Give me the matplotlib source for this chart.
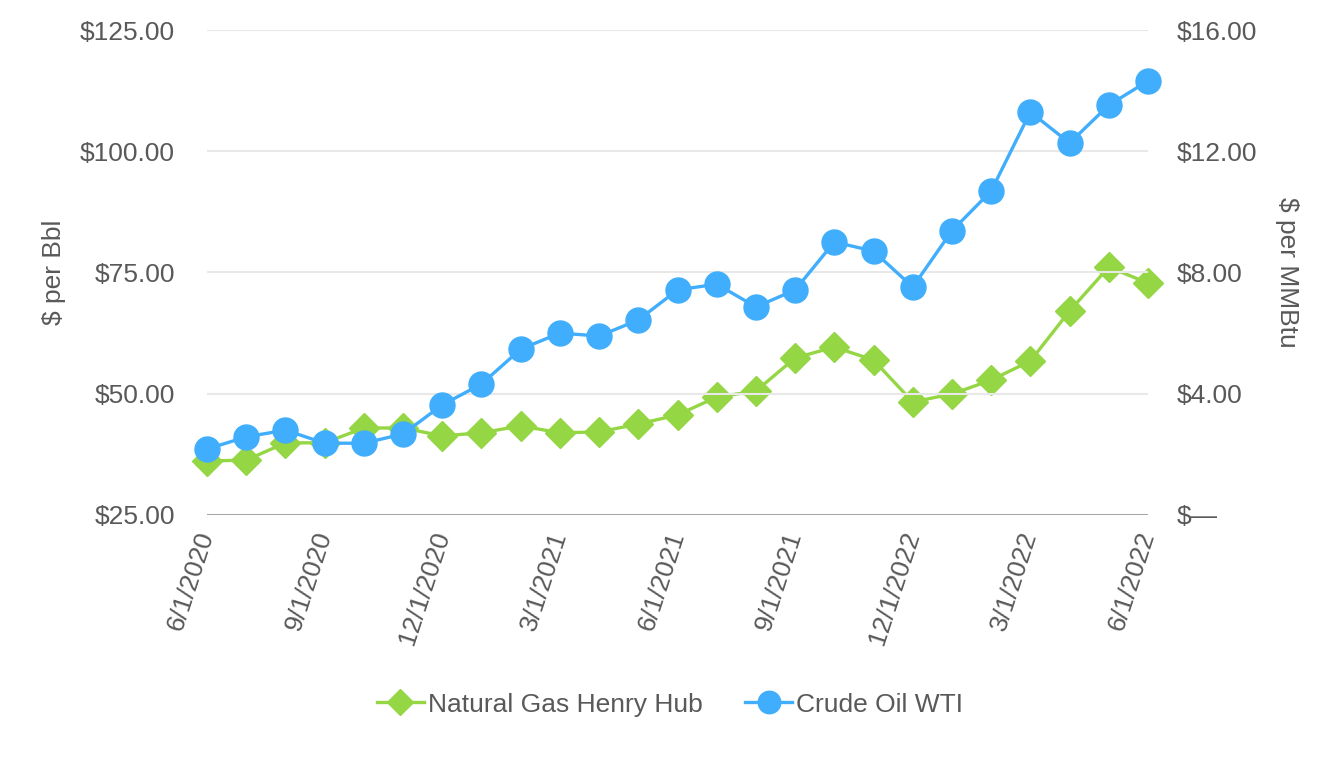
import numpy as np
import matplotlib.pyplot as plt

plt.rcParams['font.family'] = ['Liberation Sans', 'DejaVu Sans']

months = ['6/1/2020', '7/1/2020', '8/1/2020', '9/1/2020', '10/1/2020', '11/1/2020',
          '12/1/2020', '1/1/2021', '2/1/2021', '3/1/2021', '4/1/2021', '5/1/2021',
          '6/1/2021', '7/1/2021', '8/1/2021', '9/1/2021', '10/1/2021', '11/1/2021',
          '12/1/2022', '1/1/2022', '2/1/2022', '3/1/2022', '4/1/2022', '5/1/2022',
          '6/1/2022']
tick_every = 3

crude_oil = [38.6, 41.1, 42.5, 39.8, 39.8, 41.7, 47.7, 52.0, 59.2, 62.5, 61.9, 65.2,
             71.4, 72.6, 67.9, 71.4, 81.3, 79.4, 72.0, 83.6, 91.8, 108.1, 101.7, 109.5,
             114.5]
nat_gas = [1.78, 1.81, 2.38, 2.38, 2.87, 2.87, 2.61, 2.71, 2.94, 2.71, 2.74, 3.00,
           3.30, 3.89, 4.09, 5.18, 5.54, 5.11, 3.73, 3.99, 4.45, 5.08, 6.73, 8.18,
           7.65]

oil_ticks = [25, 50, 75, 100, 125]
gas_ticks = [0, 4, 8, 12, 16]

blue = '#40aefc'
green = '#95d645'
txt = '#595959'

fig = plt.figure(figsize=(13.4, 7.6), dpi=100)
ax = fig.add_axes([0.1545, 0.3224, 0.7022, 0.6381])
ax2 = ax.twinx()

x = np.arange(len(months))
g, = ax2.plot(x, nat_gas, color=green, lw=2.4, marker='D', ms=15,
              label='Natural Gas Henry Hub', clip_on=False)
o, = ax.plot(x, crude_oil, color=blue, lw=2.4, marker='o', ms=18,
             label='Crude Oil WTI', clip_on=False)
# oil on top of gas, like the original
ax.set_zorder(ax2.get_zorder() + 1)
ax.patch.set_visible(False)

ax.set_xlim(0, len(months) - 1)
ax.set_ylim(25, 125)
ax2.set_ylim(0, 16)
ax.set_yticks(oil_ticks)
ax.set_yticklabels(['${:.2f}'.format(v) for v in oil_ticks])
ax2.set_yticks(gas_ticks)
ax2.set_yticklabels(['$—' if v == 0 else '${:.2f}'.format(v) for v in gas_ticks])

ax.set_xticks(x[::tick_every])
ax.set_xticklabels(months[::tick_every], rotation=72, ha='right', va='center',
                   rotation_mode='anchor')

for a in (ax, ax2):
    for s in a.spines.values():
        s.set_visible(False)
    a.tick_params(length=0, labelsize=19, labelcolor=txt)
ax.tick_params(axis='y', pad=23)
ax2.tick_params(axis='y', pad=21)
ax.tick_params(axis='x', pad=12)

ax.grid(axis='y', color='#e8e8e8', lw=1.5)
ax.set_axisbelow(True)
ax.axhline(25, color='#a6a6a6', lw=2.2, zorder=1)

ax.set_ylabel('$ per Bbl', fontsize=19, color=txt, labelpad=10)
ax2.set_ylabel('$ per MMBtu', fontsize=19, color=txt, rotation=270, labelpad=30)

fig.legend(handles=[g, o], loc='center', bbox_to_anchor=(0.5, 0.073), ncol=2,
           frameon=False, fontsize=19, labelcolor=txt, handlelength=1.8,
           columnspacing=1.6, handletextpad=0.15, markerscale=0.9)

fig.savefig('out.png', dpi=100)
